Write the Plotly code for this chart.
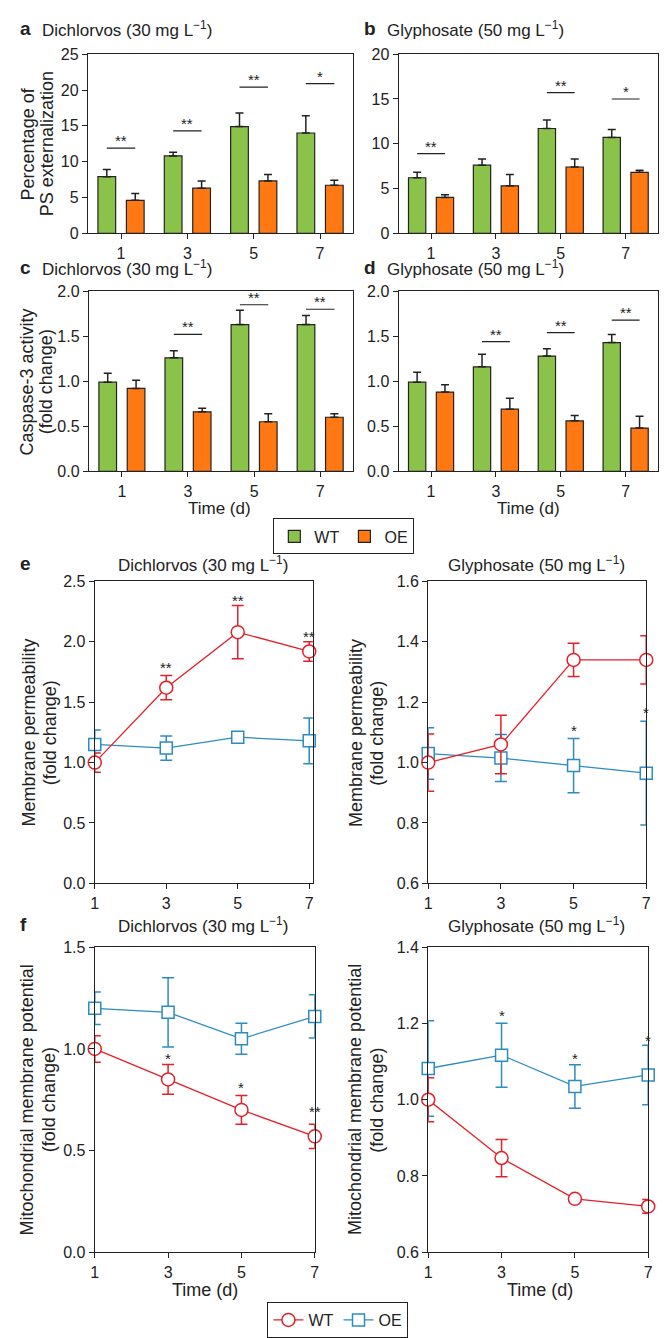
import plotly.graph_objects as go

W, H = 670, 1338
FONT = "Liberation Sans, Arial, sans-serif"

# ---------------- data ----------------
days = ['1', '3', '5', '7']
day_num = [1, 3, 5, 7]

# a: PS externalization, Dichlorvos
a_wt = [7.9, 10.8, 14.9, 14.0]
a_wt_err = [1.0, 0.5, 1.9, 2.4]
a_oe = [4.6, 6.3, 7.3, 6.7]
a_oe_err = [0.95, 1.0, 0.9, 0.7]
a_sig = ['**', '**', '**', '*']
a_sig_y = [11.9, 14.3, 20.4, 20.9]

# b: PS externalization, Glyphosate
b_wt = [6.2, 7.6, 11.7, 10.7]
b_wt_err = [0.6, 0.7, 0.95, 0.9]
b_oe = [4.0, 5.3, 7.4, 6.8]
b_oe_err = [0.3, 1.25, 0.9, 0.25]
b_sig = ['**', None, '**', '*']
b_sig_y = [8.9, None, 15.7, 15.0]

# c: Caspase-3, Dichlorvos
c_wt = [0.99, 1.26, 1.63, 1.63]
c_wt_err = [0.10, 0.08, 0.16, 0.10]
c_oe = [0.92, 0.66, 0.55, 0.60]
c_oe_err = [0.09, 0.04, 0.09, 0.04]
c_sig = [None, '**', '**', '**']
c_sig_y = [None, 1.52, 1.85, 1.80]

# d: Caspase-3, Glyphosate
d_wt = [0.99, 1.16, 1.28, 1.43]
d_wt_err = [0.11, 0.14, 0.08, 0.09]
d_oe = [0.88, 0.69, 0.56, 0.48]
d_oe_err = [0.08, 0.12, 0.06, 0.13]
d_sig = [None, '**', '**', '**']
d_sig_y = [None, 1.44, 1.54, 1.68]

# e: Membrane permeability
e1_wt = [1.00, 1.62, 2.08, 1.92]
e1_wt_err = [0.08, 0.10, 0.22, 0.08]
e1_oe = [1.15, 1.12, 1.21, 1.18]
e1_oe_err = [0.12, 0.10, 0.02, 0.19]
e1_sig = [None, '**', '**', '**']
e1_sig_y = [None, 1.81, 2.37, 2.07]

e2_wt = [1.00, 1.06, 1.34, 1.34]
e2_wt_err = [0.095, 0.097, 0.055, 0.08]
e2_oe = [1.03, 1.015, 0.99, 0.965]
e2_oe_err = [0.085, 0.078, 0.09, 0.172]
e2_sig = [None, None, '*', '*']
e2_sig_y = [None, None, 1.116, 1.176]

# f: Mitochondrial membrane potential
f1_wt = [1.00, 0.85, 0.70, 0.57]
f1_wt_err = [0.065, 0.073, 0.071, 0.06]
f1_oe = [1.20, 1.18, 1.05, 1.16]
f1_oe_err = [0.08, 0.17, 0.076, 0.106]
f1_sig = [None, '*', '*', '**']
f1_sig_y = [None, 0.968, 0.823, 0.705]

f2_wt = [1.00, 0.847, 0.74, 0.72]
f2_wt_err = [0.058, 0.049, 0.0, 0.018]
f2_oe = [1.082, 1.117, 1.035, 1.065]
f2_oe_err = [0.125, 0.084, 0.057, 0.078]
f2_sig = [None, '*', '*', '*']
f2_sig_y = [None, 1.228, 1.116, 1.163]

GREEN = "#8bc34a"
ORANGE = "#ff7811"
RED = "#e3202a"
BLUE = "#2c8cc2"
INK = "#222222"

TICK = 16
TITLE = 17
YTITLE = 18
STAR = 15


def px_x(a, b):
    return [a / W, b / W]


def px_y(top, bottom):
    return [1 - bottom / H, 1 - top / H]


fig = go.Figure()
annotations = []
shapes = []

AX = dict(showline=True, linecolor=INK, linewidth=1.2, mirror=True, ticks="outside",
          ticklen=5, tickwidth=1.2, tickcolor=INK, showgrid=False, zeroline=False,
          tickfont=dict(family=FONT, size=TICK, color=INK))

BAR_W = 0.267
OFF_WT = -0.348
OFF_OE = 0.081

bar_panels = [
    ("x", "y", (85, 354), (47, 229), a_wt, a_wt_err, a_oe, a_oe_err, a_sig, a_sig_y, [0, 25], 5, None),
    ("x2", "y2", (400, 663), (47, 229), b_wt, b_wt_err, b_oe, b_oe_err, b_sig, b_sig_y, [0, 20], 5, None),
    ("x3", "y3", (86, 354), (288, 471), c_wt, c_wt_err, c_oe, c_oe_err, c_sig, c_sig_y, [0, 2], 0.5, ".1f"),
    ("x4", "y4", (400, 663), (288, 471), d_wt, d_wt_err, d_oe, d_oe_err, d_sig, d_sig_y, [0, 2], 0.5, ".1f"),
]

layout_axes = {}
for i, (xa, ya, xd, yd, wt, wte, oe, oee, sig, sigy, yr, dt, fmt) in enumerate(bar_panels):
    idx = list(range(len(days)))
    fig.add_trace(go.Bar(x=idx, y=wt, width=BAR_W, offset=OFF_WT, xaxis=xa, yaxis=ya,
                         marker=dict(color=GREEN, line=dict(color=INK, width=1.2)),
                         error_y=dict(type="data", symmetric=False, array=wte,
                                      arrayminus=[0] * 4, color=INK, thickness=1.5, width=4),
                         name="WT", legend="legend", showlegend=(i == 0)))
    fig.add_trace(go.Bar(x=idx, y=oe, width=BAR_W, offset=OFF_OE, xaxis=xa, yaxis=ya,
                         marker=dict(color=ORANGE, line=dict(color=INK, width=1.2)),
                         error_y=dict(type="data", symmetric=False, array=oee,
                                      arrayminus=[0] * 4, color=INK, thickness=1.5, width=4),
                         name="OE", legend="legend", showlegend=(i == 0)))
    xkey = "xaxis" + xa[1:]
    ykey = "yaxis" + ya[1:]
    layout_axes[xkey] = dict(AX, domain=px_x(*xd), anchor=ya, range=[-0.5, 3.5],
                             tickvals=idx, ticktext=days)
    yax = dict(AX, domain=px_y(*yd), anchor=xa, range=yr, dtick=dt, tick0=0)
    if fmt:
        yax["tickformat"] = fmt
    layout_axes[ykey] = yax
    for j, (s, sy) in enumerate(zip(sig, sigy)):
        if s is None:
            continue
        shapes.append(dict(type="line", xref=xa, yref=ya,
                           x0=j + OFF_WT + BAR_W / 2, x1=j + OFF_OE + BAR_W / 2,
                           y0=sy, y1=sy, line=dict(color=INK, width=1.2)))
        annotations.append(dict(text=s, xref=xa, yref=ya, x=j, y=sy, showarrow=False,
                                yanchor="bottom", yshift=-3,
                                font=dict(family=FONT, size=STAR, color=INK)))

line_panels = [
    ("x5", "y5", (92, 313), (583, 890), [1, 7.1], e1_wt, e1_wt_err, e1_oe, e1_oe_err, e1_sig, e1_sig_y, [0, 2.5], 0.5, 0.0),
    ("x6", "y6", (430, 651), (583, 890), [1, 7], e2_wt, e2_wt_err, e2_oe, e2_oe_err, e2_sig, e2_sig_y, [0.6, 1.6], 0.2, 0.6),
    ("x7", "y7", (92, 315), (955, 1265), [1, 7], f1_wt, f1_wt_err, f1_oe, f1_oe_err, f1_sig, f1_sig_y, [0, 1.5], 0.5, 0.0),
    ("x8", "y8", (430, 653), (955, 1265), [1, 7], f2_wt, f2_wt_err, f2_oe, f2_oe_err, f2_sig, f2_sig_y, [0.6, 1.4], 0.2, 0.6),
]

for i, (xa, ya, xd, yd, xr, wt, wte, oe, oee, sig, sigy, yr, dt, t0) in enumerate(line_panels):
    fig.add_trace(go.Scatter(x=day_num, y=oe, xaxis=xa, yaxis=ya, mode="lines+markers",
                             line=dict(color=BLUE, width=1.3),
                             marker=dict(symbol="square", size=12, color="white",
                                         line=dict(color=BLUE, width=1.5)),
                             error_y=dict(type="data", array=oee, color=BLUE, thickness=1.5, width=6),
                             cliponaxis=False, name="OE", legend="legend2", showlegend=(i == 0)))
    fig.add_trace(go.Scatter(x=day_num, y=wt, xaxis=xa, yaxis=ya, mode="lines+markers",
                             line=dict(color=RED, width=1.3),
                             marker=dict(symbol="circle", size=13, color="white",
                                         line=dict(color=RED, width=1.5)),
                             error_y=dict(type="data", array=wte, color=RED, thickness=1.5, width=6),
                             cliponaxis=False, name="WT", legend="legend2", showlegend=(i == 0)))
    xkey = "xaxis" + xa[1:]
    ykey = "yaxis" + ya[1:]
    layout_axes[xkey] = dict(AX, domain=px_x(*xd), anchor=ya, range=xr,
                             tickvals=day_num, ticktext=days)
    layout_axes[ykey] = dict(AX, domain=px_y(*yd), anchor=xa, range=yr, dtick=dt,
                             tick0=t0, tickformat=".1f")
    for j, (s, sy) in enumerate(zip(sig, sigy)):
        if s is None:
            continue
        annotations.append(dict(text=s, xref=xa, yref=ya, x=day_num[j], y=sy, showarrow=False,
                                yanchor="middle", yshift=-3,
                                font=dict(family=FONT, size=STAR, color=INK)))

# ---------------- text ----------------
def ptext(text, x, y, size=15, bold=False, angle=0, xanchor="center"):
    t = f"<b>{text}</b>" if bold else text
    annotations.append(dict(text=t, xref="paper", yref="paper", x=x / W, y=1 - y / H,
                            showarrow=False, xanchor=xanchor, yanchor="middle",
                            textangle=angle, font=dict(family=FONT, size=size, color=INK)))


def ytitle(line1, line2, x1, x2, y):
    ptext(line1, x1, y, YTITLE, angle=-90)
    ptext(line2, x2, y, YTITLE, angle=-90)


DICH = "Dichlorvos (30 mg L<sup>−1</sup>)"
GLY = "Glyphosate (50 mg L<sup>−1</sup>)"

ptext("a", 14, 21, 19, bold=True, xanchor="left")
ptext(DICH, 36, 21, TITLE, xanchor="left")
ptext("b", 363, 21, 19, bold=True, xanchor="left")
ptext(GLY, 386, 21, TITLE, xanchor="left")
ptext("c", 14, 264, 19, bold=True, xanchor="left")
ptext(DICH, 36, 264, TITLE, xanchor="left")
ptext("d", 363, 264, 19, bold=True, xanchor="left")
ptext(GLY, 386, 264, TITLE, xanchor="left")

ytitle("Percentage of", "PS externalization", 24, 43, 138)
ytitle("Caspase-3 activity", "(fold change)", 23, 42, 380)
ptext("Time (d)", 218, 509, TITLE)
ptext("Time (d)", 532, 509, TITLE)

ptext("e", 14, 565, 19, bold=True, xanchor="left")
ptext(DICH, 202, 565, TITLE)
ptext(GLY, 540, 565, TITLE)
ytitle("Membrane permeability", "(fold change)", 25, 46, 737)
ytitle("Membrane permeability", "(fold change)", 357, 378, 737)

ptext("f", 14, 932, 19, bold=True, xanchor="left")
ptext(DICH, 202, 932, TITLE)
ptext(GLY, 540, 932, TITLE)
ytitle("Mitochondrial membrane potential", "(fold change)", 23, 45, 1110)
ytitle("Mitochondrial membrane potential", "(fold change)", 356, 378, 1110)
ptext("Time (d)", 204, 1303, 18)
ptext("Time (d)", 543, 1303, 18)

fig.update_layout(
    width=W, height=H, margin=dict(l=0, r=0, t=0, b=0),
    paper_bgcolor="white", plot_bgcolor="white",
    barmode="overlay",
    font=dict(family=FONT, size=15, color=INK),
    annotations=annotations, shapes=shapes,
    legend=dict(orientation="h", x=273 / W, y=1 - 519 / H, xanchor="left", yanchor="top",
                bordercolor=INK, borderwidth=1, font=dict(family=FONT, size=16, color=INK),
                itemwidth=30, traceorder="normal", bgcolor="white"),
    legend2=dict(orientation="h", x=267 / W, y=1 - 1316 / H, xanchor="left", yanchor="top",
                 bordercolor=INK, borderwidth=1, font=dict(family=FONT, size=16, color=INK),
                 itemwidth=30, traceorder="reversed", bgcolor="white"),
    **layout_axes,
)

fig.write_html("out.html")
